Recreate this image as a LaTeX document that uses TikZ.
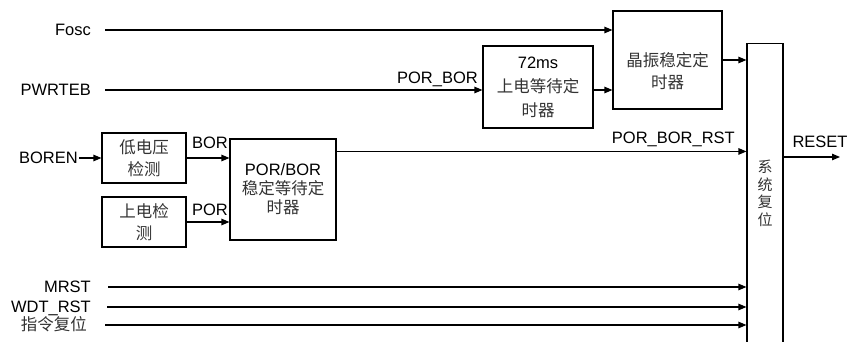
\documentclass[tikz,border=0pt]{standalone}
\usepackage{fontspec}
\setmainfont{Liberation Sans}
\newfontfamily\cjk{Noto Sans CJK SC}
\newcommand\zh[1]{{\cjk\color{black!80}#1}}
\usetikzlibrary{arrows.meta}
\tikzset{
% Boxes, signal names and wires of the reset block diagram
block/.style={rectangle,draw,line width=1.1pt,align=center,inner sep=0pt},
signal/.style={inner sep=1pt,text height=11.8pt,text depth=0pt},
wire/.style={line width=1.1pt,-{Triangle[length=8pt,width=6.5pt]}}
}

\begin{document}
\begin{tikzpicture}[x=1pt,y=-1pt,font=\fontsize{16.5}{22}\selectfont]
  \useasboundingbox (0,0) rectangle (849,342);
  \clip (0,0) rectangle (849,342);
  % blocks
  \node[block, minimum width=109, minimum height=98] (xtal) at (667.5,60) {};
  \node[align=center] (xtal-text) at (667.5,71) {\zh{晶振稳定定}\\\zh{时器}};
  \node[block, minimum width=110, minimum height=82,
    font=\fontsize{16.5}{24}\selectfont] (t72) at (538,87)
    {72ms\\\zh{上电等待定}\\\zh{时器}};
  \node[block, minimum width=106, minimum height=101,
    font=\fontsize{16.5}{19}\selectfont] (porbor) at (283,189.5)
    {POR/BOR\\\zh{稳定等待定}\\\zh{时器}};
  \node[block, minimum width=84, minimum height=50] (bod) at (144,158)
    {\zh{低电压}\\\zh{检测}};
  \node[block, minimum width=84, minimum height=50] (pod) at (144,222)
    {\zh{上电检}\\\zh{测}};
  \node[block, minimum width=36, minimum height=330, anchor=north] (sys) at (765,43) {};
  \node[align=center, font=\fontsize{15}{17.6}\selectfont] (sys-text) at (765,193.5)
    {\zh{系}\\\zh{统}\\\zh{复}\\\zh{位}};
  % signal names
  \node[signal, anchor=east] (fosc) at (92,30) {Fosc};
  \node[signal, anchor=east] (pwrteb) at (92,90) {PWRTEB};
  \node[signal, anchor=east] (boren) at (79,158) {BOREN};
  \node[signal, anchor=east] (mrst) at (92,287) {MRST};
  \node[signal, anchor=east] (wdt) at (92,307) {WDT\_RST};
  \node[signal, anchor=east] (instr) at (88,325) {\zh{指令复位}};
  \node[signal, anchor=east] (porbor-lbl) at (479,78) {POR\_BOR};
  \node[signal] (bor-lbl) at (210,143) {BOR};
  \node[signal] (por-lbl) at (210,210) {POR};
  \node[signal, anchor=east] (rst-lbl) at (736,138) {POR\_BOR\_RST};
  \node[signal] (reset-lbl) at (820,142) {RESET};
  % wires
  \coordinate (rst) at ([yshift=-13pt]porbor.north east);
  \coordinate (reset-out) at (840,157);
  \draw[wire] ([xshift=13pt]fosc.east) -- (fosc.east -| xtal.west);
  \draw[wire] ([xshift=13pt]pwrteb.east) -- (pwrteb.east -| t72.west);
  \draw[wire] (pwrteb.east -| t72.east) -- (pwrteb.east -| xtal.west);
  \draw[wire] (xtal.east) -- (xtal.east -| sys.west);
  \draw[wire] (boren.east) -- (boren.east -| bod.west);
  \draw[wire] (bod.east) -- (bod.east -| porbor.west);
  \draw[wire] (pod.east) -- (pod.east -| porbor.west);
  \draw[wire] (rst) -- (rst -| sys.west);
  \draw[wire] (reset-out -| sys.east) -- (reset-out);
  \draw[wire] ([xshift=16pt]mrst.east) -- (mrst.east -| sys.west);
  \draw[wire] ([xshift=15pt]wdt.east) -- (wdt.east -| sys.west);
  \draw[wire] ([xshift=17pt]instr.east) -- (instr.east -| sys.west);
\end{tikzpicture}
\end{document}
